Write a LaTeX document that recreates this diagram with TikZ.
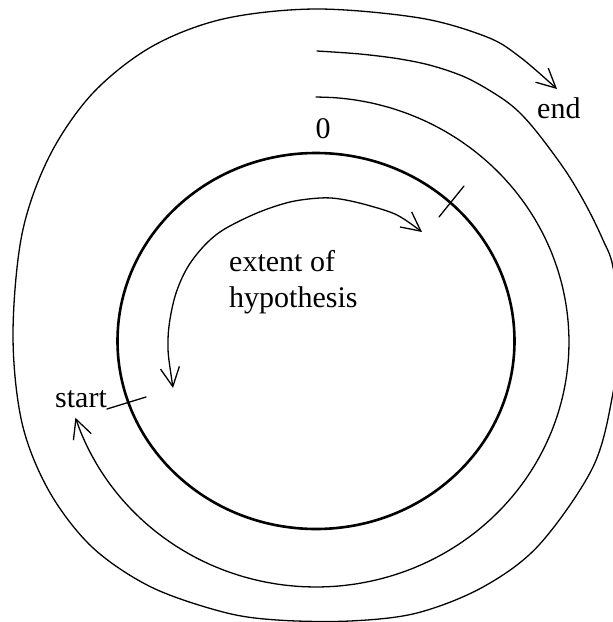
\documentclass[tikz,border=0pt]{standalone}
\usepackage{fontspec}
\setmainfont{Liberation Serif}
\usetikzlibrary{arrows.meta}
\begin{document}
\begin{tikzpicture}[x=1pt,y=-1pt,
  curve/.style={line width=1.3pt, line cap=round, line join=round},
  ring/.style={line width=2.6pt},
  barb/.style={-{Straight Barb[length=19pt,width=19pt]}},
  dbarb/.style={{Straight Barb[length=19pt,width=19pt]}-{Straight Barb[length=19pt,width=19pt]}},
  label/.style={anchor=base west, inner sep=0pt, font=\fontsize{30}{36}\selectfont}]
\useasboundingbox (0,0) rectangle (613,622);
\clip (0,0) rectangle (613,622);

% thick circle
\draw[ring] (316,341) ellipse [x radius=198.5, y radius=188];

% outer spiral (start -> end)
\coordinate (os) at (317,51);
\coordinate (oe) at (557,89);
\draw[curve,barb] plot[smooth, tension=0.55] coordinates {
  (os) (360,54) (400,59) (433,66) (467,78) (500,97) (520,113)
  (540,136) (567,173) (587,207) (603,240) (613,267)
  (620,330) (613,393) (593,467) (539,545) (483,587) (417,613)
  (350,621) (277,620) (223,612) (151,587) (92,547) (49,491) (22,423)
  (13,335) (22,234) (49,157) (92,94) (151,47) (223,19) (316,9)
  (420,18) (487,37) (520,57) (oe)};

% middle spiral (elliptic arc, clockwise from the top)
\coordinate (ms) at (316,97);
\coordinate (me) at (74,417);
\draw[curve,barb] plot[smooth, domain=0:252, samples=60, variable=\t]
  ({316+253*sin(\t)},{342-245*cos(\t)});

% inner double arrow
\coordinate (ia) at (422,232);
\coordinate (ib) at (173,388);
\draw[curve,dbarb] plot[smooth, tension=0.55] coordinates {
  (ib) (168,340) (174,300) (186,270) (203,247) (223,230) (257,213)
  (290,202) (320,198) (340,199) (367,205) (397,215) (ia)};

% ticks
\coordinate (t1a) at (464,186);
\coordinate (t1b) at (439,217);
\draw[curve] (t1a) -- (t1b);
\coordinate (t2a) at (107,409);
\coordinate (t2b) at (146,397);
\draw[curve] (t2a) -- (t2b);

% labels
\node[label, anchor=base] (zero) at (323,138) {0};
\node[label] (end) at (537,118) {end};
\node[label] (start) at (55,407) {start};
\node[label] (ext) at (229,271) {extent of};
\node[label] (hyp) at (229,307) {hypothesis};
\end{tikzpicture}
\end{document}
